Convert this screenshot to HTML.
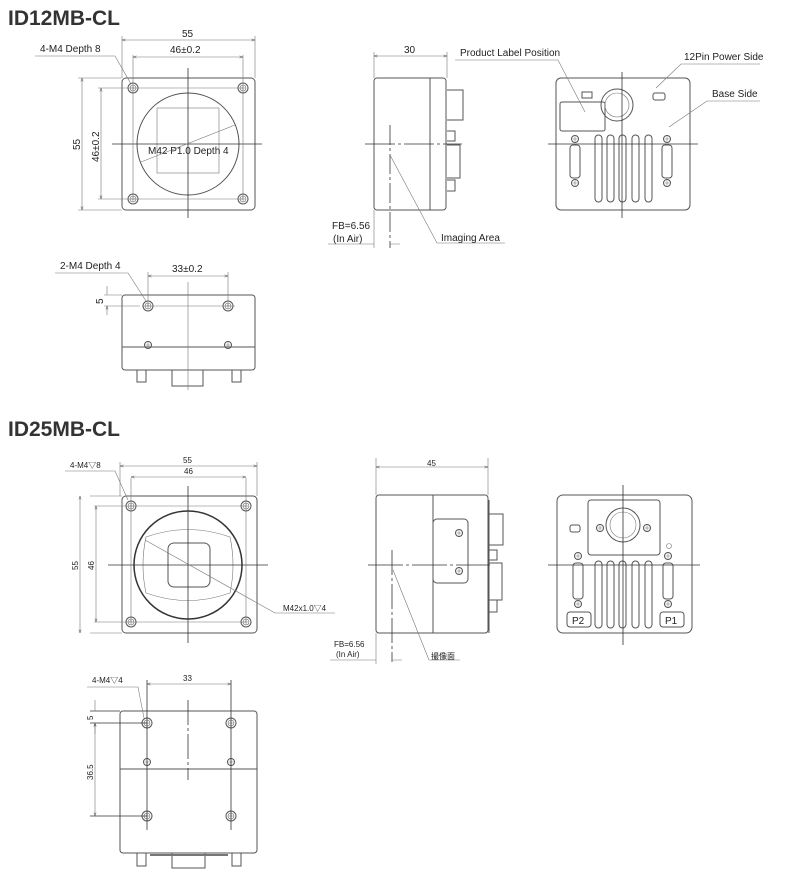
<!DOCTYPE html>
<html><head><meta charset="utf-8"><style>
html,body{margin:0;padding:0;background:#fff;}
svg{display:block;font-family:"Liberation Sans","Noto Sans CJK JP",sans-serif;}
.o{fill:none;stroke:#555;stroke-width:1}
.t{stroke:#777;stroke-width:.6;fill:none}
.c{stroke:#333;stroke-width:.8;fill:none}
text{font-size:10px;fill:#222}
.h{font-size:21px;font-weight:bold;fill:#333}
</style></head><body>
<svg width="800" height="880" viewBox="0 0 800 880" xmlns="http://www.w3.org/2000/svg">
<defs>
<marker id="a" markerWidth="6" markerHeight="6" refX="6" refY="3" orient="auto-start-reverse"><path d="M0,1 L6,3 L0,5" fill="none" stroke="#555" stroke-width=".8"/></marker>
<g id="hole"><circle r="5" class="o"/><circle r="3" class="t"/><path d="M-3,0H3M0,-3V3" class="t"/></g>
<g id="scr"><circle r="3.5" class="o"/><path d="M-2.5,0H2.5M0,-2.5V2.5" class="t"/></g>
</defs>

<!-- ===== ID12MB-CL ===== -->
<text x="8" y="25" class="h">ID12MB-CL</text>
<!-- front -->
<rect x="122" y="78" width="133" height="132" rx="4" class="o"/>
<circle cx="188" cy="144" r="51" class="o"/>
<rect x="157" y="108" width="62" height="65" class="t"/>
<path d="M188,68V218M112,144H262" class="c"/>
<path d="M133,88H243M133,199H243M133,88V199M243,88V199" class="t"/>
<use href="#hole" x="133" y="88"/><use href="#hole" x="243" y="88"/><use href="#hole" x="133" y="199"/><use href="#hole" x="243" y="199"/>
<path d="M122,36V78M255,36V78M133,55V88M243,55V88M78,78H122M78,210H122M98,88H133M98,199H133" class="t"/>
<path d="M122,40H255" class="t" marker-start="url(#a)" marker-end="url(#a)"/>
<path d="M133,57H243" class="t" marker-start="url(#a)" marker-end="url(#a)"/>
<path d="M82,78V210" class="t" marker-start="url(#a)" marker-end="url(#a)"/>
<path d="M101,88V199" class="t" marker-start="url(#a)" marker-end="url(#a)"/>
<text x="182" y="37">55</text><text x="170" y="53">46±0.2</text>
<text x="80" y="150" transform="rotate(-90 80 150)">55</text>
<text x="99" y="162" transform="rotate(-90 99 162)">46±0.2</text>
<text x="40" y="52">4-M4 Depth 8</text>
<path d="M35,56H115L131,84" class="t"/>
<text x="148" y="154">M42 P1.0 Depth 4</text>
<path d="M141,162L235,125" class="t"/>
<!-- side -->
<rect x="374" y="78" width="72" height="132" rx="3" class="o"/>
<path d="M430,78V210" class="o"/>
<path d="M447,90H463V120H447M447,131H455V141H447M447,145H460V178H447M447,180H455V191H447" class="o"/>
<path d="M365,144H462" class="c" stroke-dasharray="30 3 3 3"/>
<path d="M390,125V248" class="c" stroke-dasharray="20 3 3 3"/>
<path d="M374,52V78M447,52V78" class="t"/>
<path d="M374,56H447" class="t" marker-start="url(#a)" marker-end="url(#a)"/>
<text x="404" y="53">30</text>
<text x="332" y="229">FB=6.56</text><text x="333" y="242">(In Air)</text>
<path d="M328,244H374M390,244H400M374,210V248" class="t"/>
<path d="M390,155L437,243H505" class="t"/>
<text x="441" y="241">Imaging Area</text>
<!-- back -->
<rect x="556" y="78" width="134" height="132" rx="5" class="o"/>
<rect x="560" y="102" width="45" height="29" rx="2" class="o"/>
<rect x="582" y="92" width="10" height="6" class="o"/>
<circle cx="617" cy="105" r="16" class="o"/><circle cx="617" cy="105" r="12" class="t"/>
<rect x="653" y="93" width="12" height="7" rx="2" class="o"/>
<g class="o">
<rect x="595" y="135" width="7" height="67" rx="3.5"/><rect x="607" y="135" width="7" height="67" rx="3.5"/><rect x="619" y="135" width="7" height="67" rx="3.5"/><rect x="632" y="135" width="7" height="67" rx="3.5"/><rect x="645" y="135" width="7" height="67" rx="3.5"/>
<rect x="570" y="145" width="10" height="33" rx="3"/><rect x="662" y="145" width="10" height="33" rx="3"/>
</g>
<use href="#scr" x="575" y="139"/><use href="#scr" x="575" y="183"/><use href="#scr" x="667" y="139"/><use href="#scr" x="667" y="183"/>
<path d="M622,72V218M548,144H698" class="c"/>
<text x="460" y="56">Product Label Position</text>
<path d="M455,60H558L585,112" class="t"/>
<text x="684" y="60">12Pin Power Side</text>
<path d="M760,64H681L656,88" class="t"/>
<text x="712" y="97">Base Side</text>
<path d="M760,101H707L669,127" class="t"/>
<!-- bottom -->
<rect x="122" y="295" width="133" height="75" rx="3" class="o"/>
<path d="M122,347H255" class="o"/>
<use href="#hole" x="148" y="306"/><use href="#hole" x="228" y="306"/>
<use href="#scr" x="148" y="345"/><use href="#scr" x="228" y="345"/>
<path d="M137,370V382H146V370M232,370V382H241V370M172,370V386H203V370" class="o"/>
<path d="M188,282V390M142,306H235" class="t"/>
<path d="M148,272V306M228,272V306M104,295H122M104,306H140" class="t"/>
<path d="M148,276H228" class="t" marker-start="url(#a)" marker-end="url(#a)"/>
<path d="M107,286V295M107,315V306" class="t" marker-end="url(#a)"/>
<text x="172" y="272">33±0.2</text>
<text x="103" y="304" transform="rotate(-90 103 304)">5</text>
<text x="60" y="269">2-M4 Depth 4</text>
<path d="M55,273H128L146,301" class="t"/>

<!-- ===== ID25MB-CL ===== -->
<text x="8" y="436" class="h">ID25MB-CL</text>
<!-- front -->
<rect x="122" y="496" width="135" height="137" rx="4" class="o"/>
<circle cx="188" cy="565" r="54" stroke="#333" stroke-width="1.5" fill="none"/>
<path d="M146,537Q188,522 230,537Q236,565 230,593Q188,608 146,593Q140,565 146,537Z" class="t"/>
<rect x="168" y="543" width="42" height="44" rx="6" class="o"/>
<path d="M188,486V643M108,565H268" class="c"/>
<path d="M131,506H246M131,622H246M131,478V622M246,478V622M90,496H122M90,633H122M94,506H131M94,622H131M120,462V496M257,462V496" class="t"/>
<use href="#hole" x="131" y="506"/><use href="#hole" x="246" y="506"/><use href="#hole" x="131" y="622"/><use href="#hole" x="246" y="622"/>
<path d="M120,466H257" class="t" marker-start="url(#a)" marker-end="url(#a)"/>
<path d="M131,477H246" class="t" marker-start="url(#a)" marker-end="url(#a)"/>
<path d="M80,496V633" class="t" marker-start="url(#a)" marker-end="url(#a)"/>
<path d="M96,506V622" class="t" marker-start="url(#a)" marker-end="url(#a)"/>
<text x="183" y="463" style="font-size:8px">55</text><text x="184" y="474" style="font-size:8px">46</text>
<text x="78" y="570" transform="rotate(-90 78 570)" style="font-size:8px">55</text>
<text x="94" y="570" transform="rotate(-90 94 570)" style="font-size:8px">46</text>
<text x="70" y="468" style="font-size:8px">4-M4▽8</text>
<path d="M65,471H115L128,500" class="t"/>
<path d="M145,540L275,613H335" class="t"/>
<text x="283" y="611" style="font-size:8px">M42x1.0▽4</text>
<!-- side -->
<rect x="376" y="495" width="112" height="138" rx="3" class="o"/>
<path d="M433,495V633" class="o"/>
<rect x="433" y="519" width="35" height="64" rx="4" class="o"/>
<use href="#scr" x="459" y="533"/><use href="#scr" x="459" y="571"/>
<path d="M489,500V633M489,514H503V545H489M489,550H497V560H489M489,563H502V600H489M489,600H497V612H489" class="o"/>
<path d="M368,565H490" class="c" stroke-dasharray="35 3 3 3"/>
<path d="M392,550V662" class="c" stroke-dasharray="25 3 3 3"/>
<path d="M376,458V495M488,458V495" class="t"/>
<path d="M376,467H488" class="t" marker-start="url(#a)" marker-end="url(#a)"/>
<text x="427" y="466" style="font-size:8px">45</text>
<text x="334" y="647" style="font-size:8px">FB=6.56</text><text x="336" y="657" style="font-size:8px">(In Air)</text>
<path d="M330,660H376M392,660H402M376,633V664" class="t"/>
<path d="M393,570L429,660H460" class="t"/>
<text x="431" y="659" style="font-size:8px">撮像面</text>
<!-- back -->
<rect x="557" y="495" width="135" height="138" rx="6" class="o"/>
<rect x="588" y="500" width="72" height="55" rx="3" class="o"/>
<circle cx="623" cy="525" r="17" class="o"/><circle cx="623" cy="525" r="13" class="t"/>
<use href="#scr" x="600" y="528"/><use href="#scr" x="647" y="528"/>
<rect x="570" y="525" width="10" height="7" rx="2" class="o"/>
<circle cx="669" cy="546" r="2.5" class="t"/>
<g class="o">
<rect x="595" y="561" width="7" height="67" rx="3.5"/><rect x="607" y="561" width="7" height="67" rx="3.5"/><rect x="619" y="561" width="7" height="67" rx="3.5"/><rect x="632" y="561" width="7" height="67" rx="3.5"/><rect x="645" y="561" width="7" height="67" rx="3.5"/>
<rect x="573" y="563" width="10" height="36" rx="3"/><rect x="663" y="563" width="10" height="36" rx="3"/>
<rect x="567" y="612" width="24" height="15" rx="3"/><rect x="660" y="612" width="24" height="15" rx="3"/>
</g>
<use href="#scr" x="578" y="556"/><use href="#scr" x="578" y="604"/><use href="#scr" x="668" y="556"/><use href="#scr" x="668" y="604"/>
<text x="572" y="624">P2</text><text x="665" y="624">P1</text>
<path d="M623,485V645M548,565H700" class="c"/>
<!-- bottom -->
<rect x="120" y="711" width="137" height="142" rx="3" class="o"/>
<path d="M120,769H257" class="o"/>
<use href="#hole" x="147" y="723"/><use href="#hole" x="231" y="723"/><use href="#hole" x="147" y="816"/><use href="#hole" x="231" y="816"/>
<use href="#scr" x="147" y="762"/><use href="#scr" x="231" y="762"/>
<path d="M137,853V866H146V853M232,853V866H241V853M172,853V868H205V853" class="o"/>
<path d="M150,855H228" stroke="#777" stroke-width="2"/>
<path d="M147,680V830M231,680V830M90,711H120M90,723H147M90,816H147" class="c"/>
<path d="M188,700V780" class="c" stroke-dasharray="25 3 3 3"/>
<path d="M147,684H231" class="t" marker-start="url(#a)" marker-end="url(#a)"/>
<path d="M95,700V711M95,734V723" class="t" marker-end="url(#a)"/>
<path d="M95,723V816" class="t" marker-start="url(#a)" marker-end="url(#a)"/>
<text x="183" y="681" style="font-size:8px">33</text>
<text x="93" y="720" transform="rotate(-90 93 720)" style="font-size:8px">5</text>
<text x="93" y="780" transform="rotate(-90 93 780)" style="font-size:8px">36.5</text>
<text x="92" y="683" style="font-size:8px">4-M4▽4</text>
<path d="M87,687H138L144,718" class="t"/>
</svg>
</body></html>
